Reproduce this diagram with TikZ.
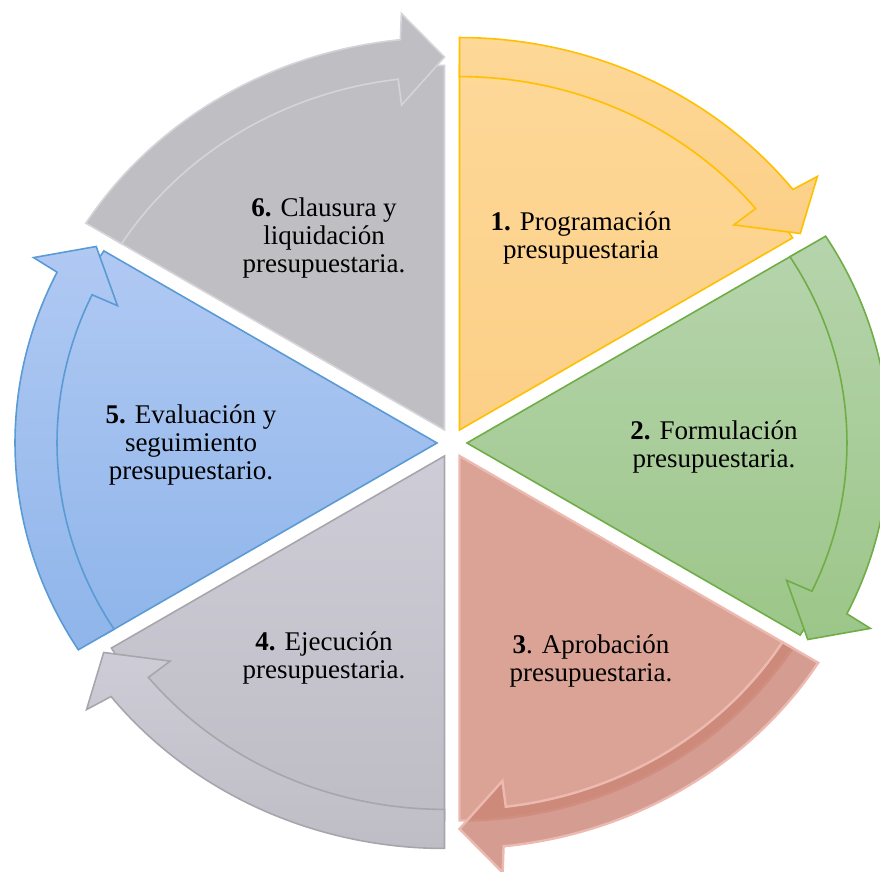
\documentclass[tikz,border=0pt]{standalone}
\usepackage{fontspec}
\setmainfont{Liberation Serif}
\usepackage{tikz}
\definecolor{orangetop}{RGB}{253,216,152}
\definecolor{orangebot}{RGB}{252,207,134}
\definecolor{orangeline}{RGB}{255,192,0}
\definecolor{greentop}{RGB}{182,212,172}
\definecolor{greenbot}{RGB}{156,198,137}
\definecolor{greenline}{RGB}{112,173,71}
\definecolor{redfill}{RGB}{218,163,150}
\definecolor{redband}{RGB}{202,132,117}
\definecolor{redline}{RGB}{236,186,176}
\definecolor{greyfourtop}{RGB}{206,205,215}
\definecolor{greyfourbot}{RGB}{190,189,198}
\definecolor{greyfourline}{RGB}{166,166,172}
\definecolor{bluetop}{RGB}{176,201,243}
\definecolor{bluebot}{RGB}{143,181,234}
\definecolor{blueline}{RGB}{91,155,213}
\definecolor{greysixfill}{RGB}{190,190,195}
\definecolor{greysixline}{RGB}{212,212,218}
\tikzset{stagetext/.style={align=center, font=\rmfamily\fontsize{13.5}{14}\selectfont}}
\tikzset{stage one/.style={top color=orangetop, bottom color=orangebot, draw=orangeline, line width=0.8pt}}
\tikzset{stage two/.style={top color=greentop, bottom color=greenbot, draw=greenline, line width=0.8pt}}
\tikzset{stage three/.style={fill=redfill, draw=redline, line width=1.2pt}}
\tikzset{band three/.style={fill=redband, fill opacity=0.8, draw=redline, line width=1.2pt}}
\tikzset{stage four/.style={top color=greyfourtop, bottom color=greyfourbot, draw=greyfourline, line width=0.8pt}}
\tikzset{stage five/.style={top color=bluetop, bottom color=bluebot, draw=blueline, line width=0.8pt}}
\tikzset{stage six/.style={fill=greysixfill, draw=greysixline, line width=0.8pt}}
\newcommand{\stagewedge}[4]{
  \begin{scope}[shift={(#3:15)}, yscale=0.93]
    \filldraw[#4] (0,0) -- (#1:392) arc[start angle=#1, end angle=#2, radius=392] -- cycle;
  \end{scope}}
\newcommand{\stageband}[4]{
  \begin{scope}[shift={(#3:15)}, yscale=0.93]
    \filldraw[#4] (#1:380) -- (#1:422) arc[start angle=#1, end angle=#2+6, radius=422]
      -- (#2+5.5:450) -- (#2:401) -- (#2+7:352) -- (#2+7:380)
      arc[start angle=#2+7, end angle=#1, radius=380] -- cycle;
  \end{scope}}

\begin{document}
\begin{tikzpicture}[x=0.5pt, y=0.5pt]
    \useasboundingbox (-452,-429) rectangle (428,443);

    \stagewedge{90}{31.8}{60}{stage one}
    \stageband{90}{31.8}{60}{stage one}
    \stagewedge{31.8}{-31.8}{0}{stage two}
    \stageband{31.8}{-31.8}{0}{stage two}
    \stagewedge{-31.8}{-90}{-60}{stage three}
    \stageband{-31.8}{-90}{-60}{band three}
    \stagewedge{-90}{-148.2}{-120}{stage four}
    \stageband{-90}{-148.2}{-120}{stage four}
    \stagewedge{-148.2}{-211.8}{180}{stage five}
    \stageband{-148.2}{-211.8}{180}{stage five}
    \stagewedge{148.2}{90}{120}{stage six}
    \stageband{148.2}{90}{120}{stage six}

    \node[stagetext] (st1) at (129, 205) {\textbf{1.} Programación\\presupuestaria};
    \node[stagetext] (st2) at (262, -4) {\textbf{2.} Formulación\\presupuestaria.};
    \node[stagetext] (st3) at (139, -218) {\textbf{3}. Aprobación\\presupuestaria.};
    \node[stagetext] (st4) at (-128, -215) {\textbf{4.} Ejecución\\presupuestaria.};
    \node[stagetext] (st5) at (-261, -2) {\textbf{5.} Evaluación y\\seguimiento\\presupuestario.};
    \node[stagetext] (st6) at (-128, 205) {\textbf{6.} Clausura y\\liquidación\\presupuestaria.};
\end{tikzpicture}
\end{document}
